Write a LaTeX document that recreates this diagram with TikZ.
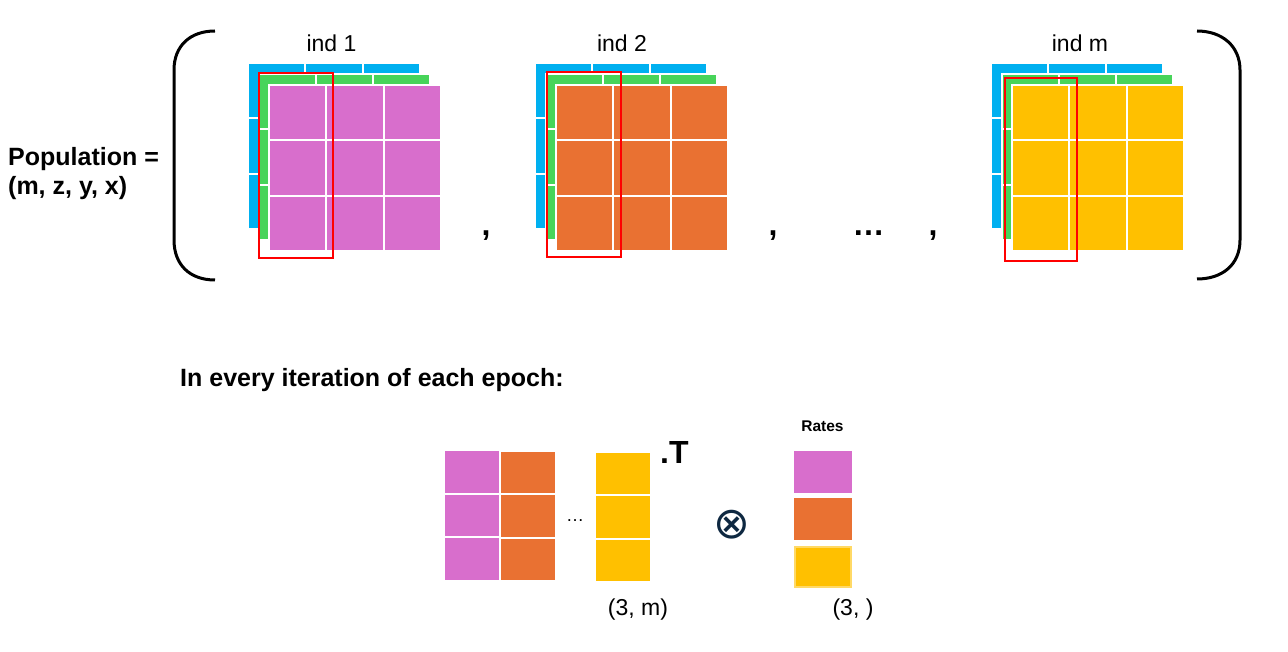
\documentclass[tikz,border=0pt]{standalone}
\usepackage{fontspec}
\setmainfont{Liberation Sans}
\newfontfamily\symfont{DejaVu Sans}
\definecolor{pinkc}{HTML}{D86ECC}
\definecolor{orangec}{HTML}{E97132}
\definecolor{yellowc}{HTML}{FFC000}
\definecolor{bluec}{HTML}{00B0F0}
\definecolor{greenc}{HTML}{47D45A}
\definecolor{redc}{HTML}{FF0000}
\definecolor{navyc}{HTML}{0E2841}
\definecolor{ybord}{HTML}{FFD966}
\newcommand\gridlayer[3]{%
  \foreach \i in {0,1,2}{\foreach \j in {0,1,2}{%
    \draw[cell,fill=#3] ({#1+\i*57.3},{#2+\j*55.3}) rectangle ++(57.3,55.3);}}}
\newcommand\indstack[2]{%
  \gridlayer{248+#1}{63}{bluec}%
  \gridlayer{258.5+#1}{74}{greenc}%
  \gridlayer{269+#1}{85}{#2}}
\begin{document}
\begin{tikzpicture}[x=1pt,y=-1pt,
  cell/.style={draw=white,line width=2pt},
  redbox/.style={draw=redc,line width=2pt},
  paren/.style={draw=black,line width=3pt},
  lbl/.style={inner sep=0pt,font=\fontsize{23}{26}\selectfont},
  bold/.style={inner sep=0pt,font=\fontsize{25}{28}\selectfont\bfseries},
  punct/.style={inner sep=0pt,font=\fontsize{32}{34}\selectfont\bfseries}]
\useasboundingbox (0,0) rectangle (1288,652);
% parentheses
\draw[paren] (215,31) .. controls (190,31) and (174,46) .. (174,70) -- (174,240) .. controls (174,265) and (190,280) .. (215,280);
\draw[paren] (1197,31) .. controls (1222,31) and (1240,46) .. (1240,70) -- (1240,240) .. controls (1240,265) and (1222,279) .. (1197,279);
% individuals
\indstack{0}{pinkc}
\indstack{287}{orangec}
\indstack{743}{yellowc}
\draw[redbox] (259.3,73.3) rectangle (333,257.7);
\draw[redbox] (547,72.5) rectangle (621,257);
\draw[redbox] (1004.7,77.7) rectangle (1077,261);
% labels
\node[lbl,anchor=base] (ind1) at (331.5,52) {ind 1};
\node[lbl,anchor=base] (ind2) at (622,52) {ind 2};
\node[lbl,anchor=base] (indm) at (1080,52) {ind m};
\node[bold,anchor=base west] (pop) at (8,166) {Population =};
\node[bold,anchor=base west] (dims) at (8,195) {(m, z, y, x)};
\node[punct,anchor=base] (c1) at (486,236) {,};
\node[punct,anchor=base] (c2) at (773,236) {,};
\node[punct,anchor=base] (dots) at (868.5,236) {…};
\node[punct,anchor=base] (c3) at (933,236) {,};
\node[bold,anchor=base west] (head) at (180,386) {In every iteration of each epoch:};
% bottom matrix
\foreach \j in {0,1,2}{
  \draw[cell,fill=pinkc] (444,{450+\j*43.5}) rectangle ++(56,43.5);
  \draw[cell,fill=orangec] (500,{450.7+\j*43.5}) rectangle ++(56,43.5);
  \draw[cell,fill=yellowc] (595,{452+\j*43.3}) rectangle ++(55.5,43.3);
}
\node[lbl,anchor=base,font=\fontsize{18}{20}\selectfont] (dotsb) at (575,521) {…};
\node[inner sep=0pt,anchor=base west,font=\fontsize{32}{34}\selectfont\bfseries] (tr) at (660,463) {.T};
\node[lbl,anchor=base] (shape1) at (638,615) {(3, m)};
\node[inner sep=0pt,text=navyc,font=\fontsize{44}{46}\selectfont\symfont] (otimes) at (731.7,524.5) {⊗};
% rates
\node[inner sep=0pt,anchor=base,font=\fontsize{15.5}{17}\selectfont\bfseries] (rates) at (822.5,431) {Rates};
\fill[pinkc] (794,451) rectangle ++(58,42);
\fill[orangec] (794,497.5) rectangle ++(58,42);
\draw[fill=yellowc,draw=ybord,line width=2pt] (795,546.5) rectangle ++(56,40.5);
\node[lbl,anchor=base] (shape2) at (853,615) {(3, )};
\end{tikzpicture}
\end{document}
